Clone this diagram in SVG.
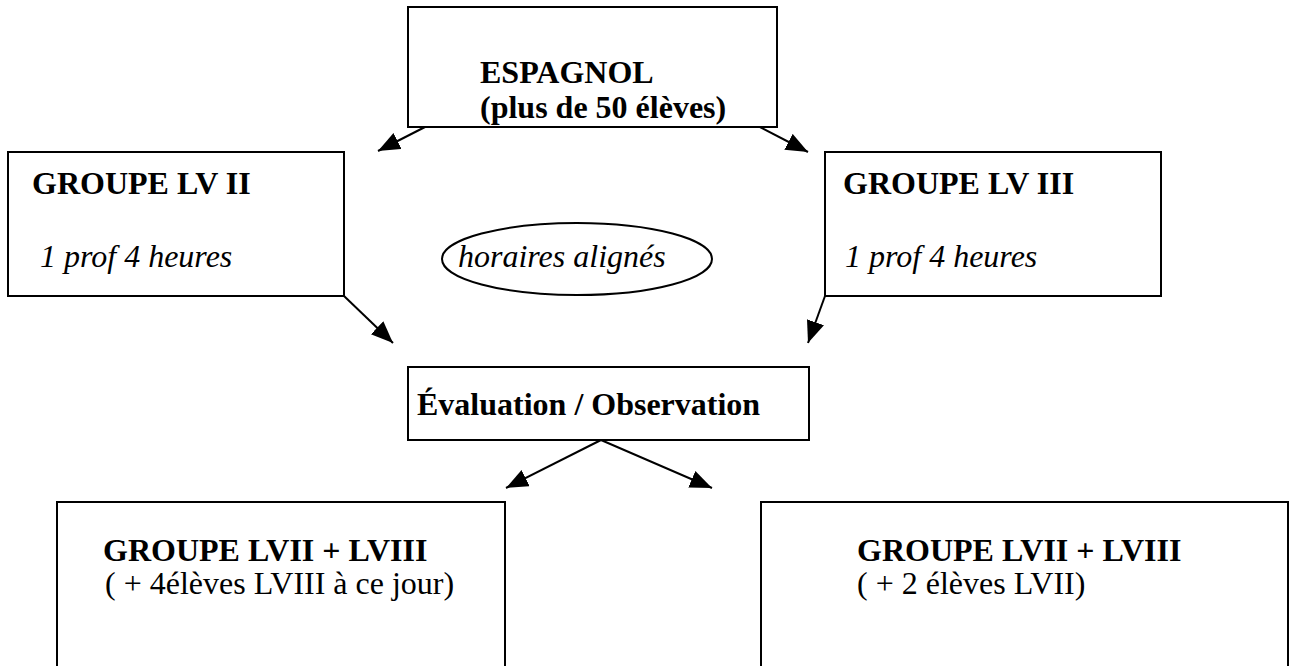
<svg xmlns="http://www.w3.org/2000/svg" width="1292" height="666" viewBox="0 0 1292 666">
<style>
.box{fill:#fff;stroke:#000;stroke-width:2}
text{font-family:'Liberation Serif','Times New Roman',serif;font-size:32px;fill:#000}
.b{font-weight:bold}
.i{font-style:italic}
.c{stroke:#000;stroke-width:2;fill:none;marker-end:url(#ah)}
</style>
<defs>
<marker id="ah" markerUnits="userSpaceOnUse" markerWidth="24" markerHeight="20" refX="22" refY="9" orient="auto" viewBox="0 0 24 20">
<path d="M0,0 L22,9 L0,18 z" fill="#000"/>
</marker>
</defs>
<rect width="1292" height="666" fill="#fff"/>
<g id="connectors">
<line class="c" x1="425" y1="127" x2="378" y2="151"/>
<line class="c" x1="760" y1="127" x2="808" y2="152"/>
<line class="c" x1="344" y1="296" x2="393" y2="343"/>
<line class="c" x1="825" y1="296" x2="808" y2="343"/>
<line class="c" x1="601" y1="440" x2="506" y2="488"/>
<line class="c" x1="601" y1="440" x2="712" y2="488"/>
</g>
<g id="espagnol">
<rect class="box" x="408" y="7" width="369" height="120"/>
<text class="b" x="480" y="83">ESPAGNOL</text>
<text class="b" x="480" y="118">(plus de 50 élèves)</text>
</g>
<g id="lv2">
<rect class="box" x="8" y="152" width="336" height="144"/>
<text class="b" x="32" y="194">GROUPE LV II</text>
<text class="i" x="40" y="267">1 prof 4 heures</text>
</g>
<g id="lv3">
<rect class="box" x="825" y="152" width="336" height="144"/>
<text class="b" x="843" y="194">GROUPE LV III</text>
<text class="i" x="845" y="267">1 prof 4 heures</text>
</g>
<g id="horaires">
<ellipse cx="577" cy="259" rx="135" ry="36" fill="none" stroke="#000" stroke-width="2"/>
<text class="i" x="458" y="267">horaires alignés</text>
</g>
<g id="evaluation">
<rect class="box" x="408" y="367" width="401" height="73"/>
<text class="b" x="417" y="415">Évaluation / Observation</text>
</g>
<g id="groupe-left">
<rect class="box" x="57" y="502" width="448" height="180"/>
<text class="b" x="103" y="561">GROUPE LVII + LVIII</text>
<text x="105" y="594">( + 4élèves LVIII à ce jour)</text>
</g>
<g id="groupe-right">
<rect class="box" x="761" y="502" width="527" height="180"/>
<text class="b" x="857" y="561">GROUPE LVII + LVIII</text>
<text x="857" y="594">( + 2 élèves LVII)</text>
</g>
</svg>
